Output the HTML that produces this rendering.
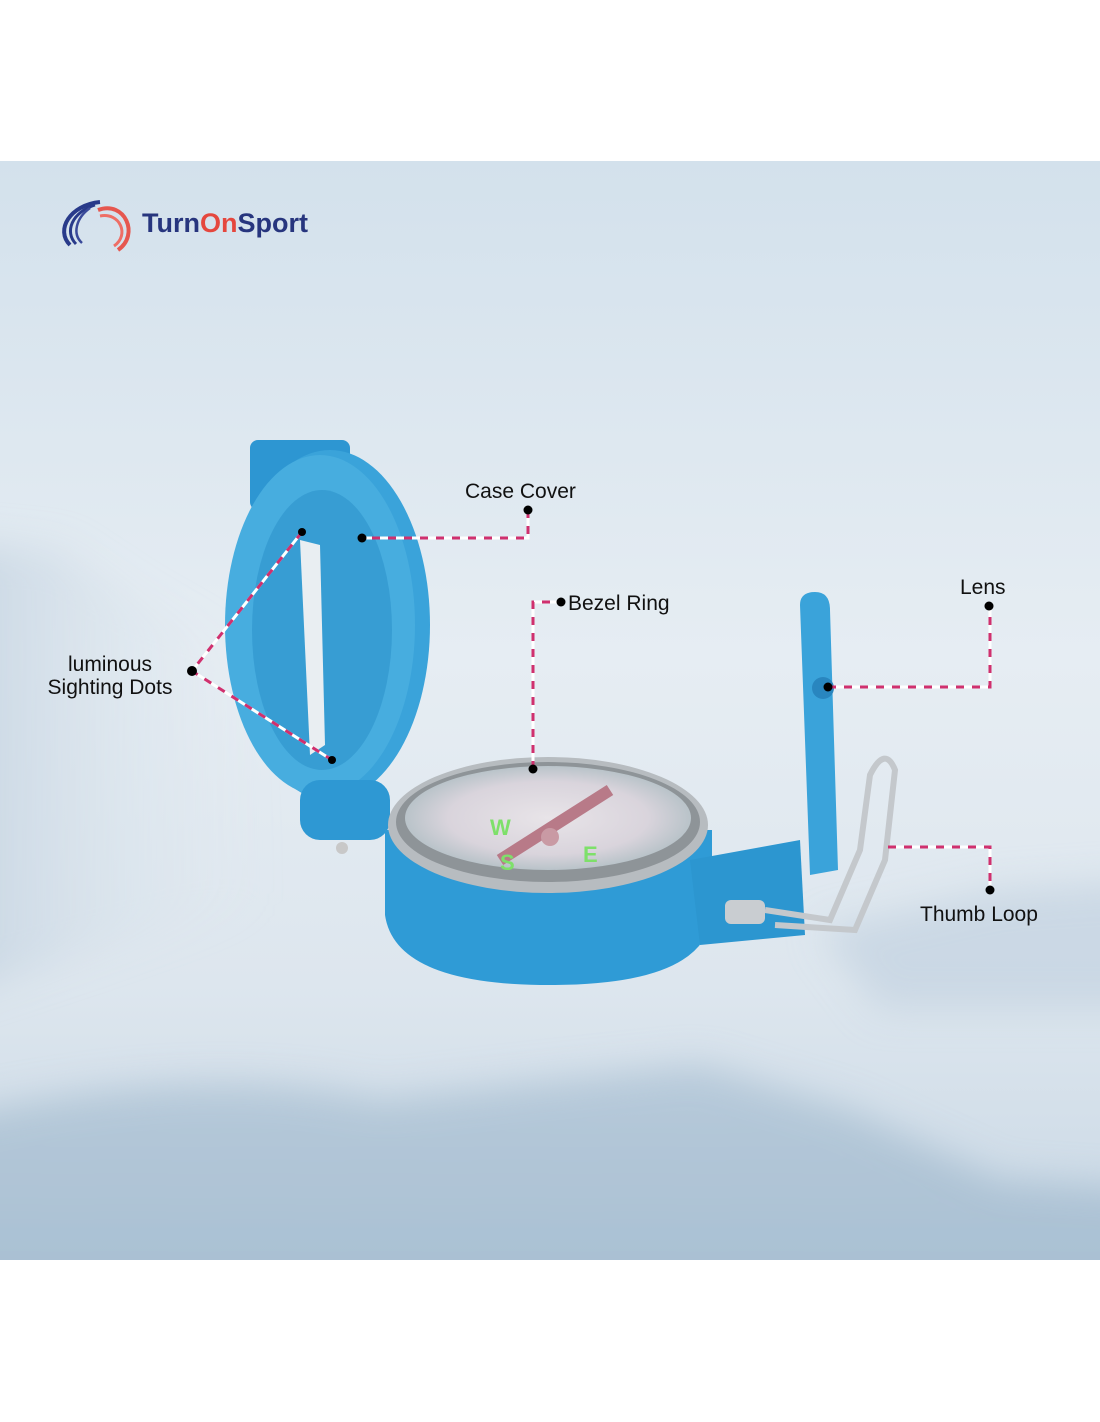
<!DOCTYPE html>
<html><head><meta charset="utf-8">
<style>
html,body{margin:0;padding:0;background:#fff;}
body{width:1100px;height:1422px;position:relative;overflow:hidden;font-family:"Liberation Sans",sans-serif;}
svg{position:absolute;left:0;top:0;}
</style></head>
<body>
<svg width="1100" height="1422" viewBox="0 0 1100 1422">
<defs>
<linearGradient id="bg" x1="0" y1="0" x2="0" y2="1">
<stop offset="0" stop-color="#d3e1ec"/>
<stop offset="0.45" stop-color="#e6edf3"/>
<stop offset="0.75" stop-color="#dde6ee"/>
<stop offset="1" stop-color="#c9d8e5"/>
</linearGradient>
<linearGradient id="mt" x1="0" y1="0" x2="0" y2="1">
<stop offset="0" stop-color="#b2c6d7"/>
<stop offset="1" stop-color="#9fb8cd"/>
</linearGradient>
<linearGradient id="lm" x1="0" y1="0" x2="1" y2="0">
<stop offset="0" stop-color="#c5d4e1"/>
<stop offset="1" stop-color="#e2eaf1" stop-opacity="0"/>
</linearGradient>
<radialGradient id="dial" cx="0.5" cy="0.5" r="0.5">
<stop offset="0" stop-color="#e8e4e8"/>
<stop offset="0.7" stop-color="#d9d4dc"/>
<stop offset="1" stop-color="#b9c3c9"/>
</radialGradient>
<filter id="blur" x="-20%" y="-20%" width="140%" height="140%"><feGaussianBlur stdDeviation="18"/></filter>
<clipPath id="cp"><rect x="0" y="161" width="1100" height="1099"/></clipPath>
</defs>
<rect x="0" y="161" width="1100" height="1099" fill="url(#bg)"/>
<g clip-path="url(#cp)">
<g filter="url(#blur)">
<path d="M-60 540 L60 550 L140 600 L240 650 L260 900 L-60 1000Z" fill="url(#lm)"/>
<path d="M820 930 L1000 890 L1160 880 L1160 1010 L880 1010Z" fill="#c6d5e2" opacity="0.8"/>
<path d="M-60 1120 Q200 1060 380 1100 L560 1080 L700 1065 L850 1110 L1000 1180 L1160 1190 L1160 1340 L-60 1340Z" fill="url(#mt)" opacity="0.85"/>
</g>
</g>

<!-- logo -->
<g>
<path d="M100 202 C70 205 55 230 70 245" fill="none" stroke="#283a8a" stroke-width="4"/>
<path d="M95 205 C72 212 64 232 76 244" fill="none" stroke="#283a8a" stroke-width="3"/>
<path d="M90 208 C76 218 72 234 82 243" fill="none" stroke="#3a4a9a" stroke-width="2.5"/>
<path d="M98 210 C125 200 140 235 118 250" fill="none" stroke="#e6574f" stroke-width="4"/>
<path d="M100 216 C120 212 130 235 114 246" fill="none" stroke="#ee6e66" stroke-width="3"/>
<text x="142" y="232" font-size="27" font-weight="bold" fill="#27357e">Turn<tspan fill="#e5473e">On</tspan>Sport</text>
</g>

<!-- compass lid -->
<rect x="250" y="440" width="100" height="70" rx="8" fill="#2d96d2"/>
<ellipse cx="330" cy="625" rx="100" ry="175" fill="#3aa3da"/>
<ellipse cx="320" cy="625" rx="95" ry="170" fill="#47addf"/>
<ellipse cx="322" cy="630" rx="70" ry="140" fill="#2d93cc" opacity="0.6"/>
<path d="M300 540 L320 545 L325 745 L310 755Z" fill="#e9eef2"/>
<rect x="300" y="780" width="90" height="60" rx="20" fill="#2e98d3"/>
<circle cx="342" cy="848" r="6" fill="#c8c8c8"/>
<!-- body -->
<path d="M385 830 L385 915 Q395 985 550 985 Q705 985 712 915 L712 830Z" fill="#2f9bd6"/>
<path d="M690 860 L800 840 L805 935 L700 945Z" fill="#2c96d0"/>
<ellipse cx="548" cy="825" rx="160" ry="68" fill="#b7bcc0"/>
<ellipse cx="548" cy="822" rx="152" ry="60" fill="#8e9498"/>
<ellipse cx="548" cy="818" rx="143" ry="52" fill="url(#dial)"/>
<path d="M500 860 L610 790" stroke="#b87a88" stroke-width="12"/>
<text x="490" y="835" font-size="22" font-weight="bold" fill="#7ee06a">W</text>
<text x="500" y="870" font-size="22" font-weight="bold" fill="#7ee06a">S</text>
<text x="583" y="862" font-size="22" font-weight="bold" fill="#7ee06a">E</text>
<circle cx="550" cy="837" r="9" fill="#c99aa4"/>
<!-- lens -->
<path d="M800 605 Q800 592 815 592 Q830 592 830 610 L838 870 L810 875Z" fill="#3aa3da"/>
<circle cx="823" cy="688" r="11" fill="#2986bf"/>
<path d="M765 910 L830 920 L860 850 L870 775 Q885 745 895 770 L885 860 L855 930 L775 925" fill="none" stroke="#c4c8cc" stroke-width="6"/>
<rect x="725" y="900" width="40" height="24" rx="6" fill="#c9cdd1"/>

<!-- connectors -->
<g fill="none" stroke-width="3">
<path d="M362 538 L528 538 L528 510" stroke="#fff"/>
<path d="M362 538 L528 538 L528 510" stroke="#d0306e" stroke-dasharray="8 8" stroke-dashoffset="-10"/>
<path d="M533 769 L533 602 L560 602" stroke="#fff"/>
<path d="M533 769 L533 602 L560 602" stroke="#d0306e" stroke-dasharray="8 8"/>
<path d="M828 687 L990 687 L990 606" stroke="#fff"/>
<path d="M828 687 L990 687 L990 606" stroke="#d0306e" stroke-dasharray="8 8"/>
<path d="M888 847 L990 847 L990 890" stroke="#fff"/>
<path d="M888 847 L990 847 L990 890" stroke="#d0306e" stroke-dasharray="8 8"/>
<path d="M302 532 L192 671 L332 760" stroke="#fff"/>
<path d="M302 532 L192 671 L332 760" stroke="#d0306e" stroke-dasharray="8 8"/>
</g>
<g fill="#000">
<circle cx="362" cy="538" r="4.5"/><circle cx="528" cy="510" r="4.5"/>
<circle cx="533" cy="769" r="4.5"/><circle cx="561" cy="602" r="4.5"/>
<circle cx="828" cy="687" r="4.5"/><circle cx="989" cy="606" r="4.5"/>
<circle cx="990" cy="890" r="4.5"/><circle cx="192" cy="671" r="5"/>
<circle cx="302" cy="532" r="4"/><circle cx="332" cy="760" r="4"/>
</g>
<g font-size="21" fill="#111">
<text x="465" y="498">Case Cover</text>
<text x="568" y="610">Bezel Ring</text>
<text x="960" y="594">Lens</text>
<text x="920" y="921">Thumb Loop</text>
<text x="110" y="671" text-anchor="middle">luminous</text>
<text x="110" y="694" text-anchor="middle">Sighting Dots</text>
</g>
</svg>
</body></html>
